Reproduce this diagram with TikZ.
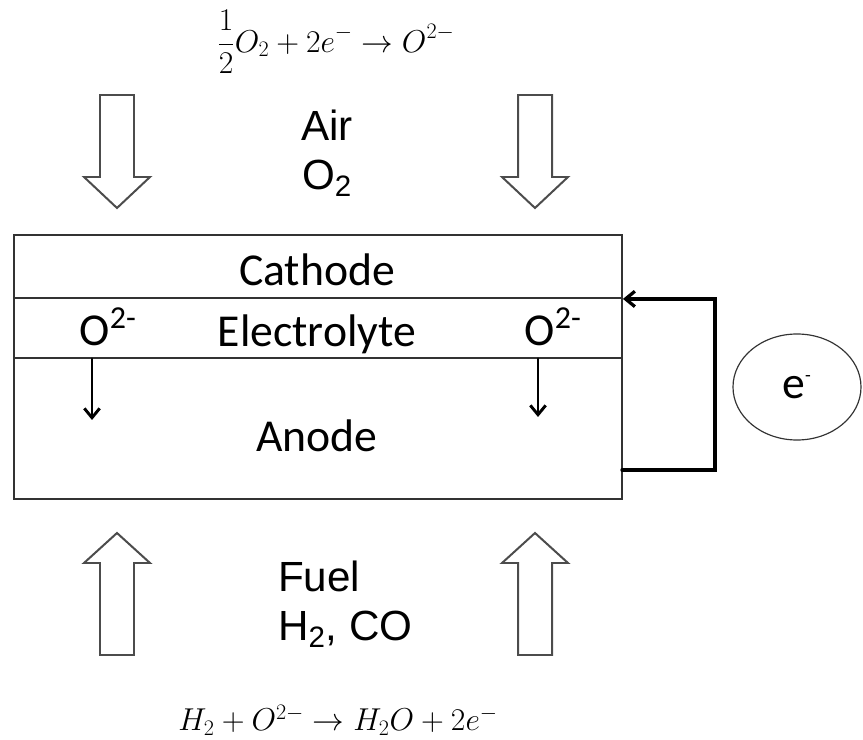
\RequirePackage{fix-cm}
\documentclass[tikz,border=0pt]{standalone}
\usepackage{fontspec}
\setmainfont{Carlito}
\newfontfamily\arialfont{Liberation Sans}
\usetikzlibrary{arrows.meta,shapes.geometric}

\begin{document}
\begin{tikzpicture}[x=0.03cm,y=-0.03cm,>={Straight Barb[length=2.8mm,width=4.6mm]},line cap=round,
  layer/.style={draw=black!80,line width=1.6pt,minimum width=18.24cm,inner sep=0pt},
  blockarrow/.style={draw=black!70,line width=1.7pt,line join=miter,fill=white},
  lbl/.style={font=\fontsize{39}{46}\selectfont},
  gas/.style={font=\arialfont\fontsize{36}{42}\selectfont},
  eqn/.style={font=\fontsize{27}{33}\selectfont},
  wire/.style={draw=black,line width=2.8pt},
  ion/.style={draw=black,line width=2.5pt}]
\useasboundingbox (0,0) rectangle (863,740);
% cell layers
\node[layer,minimum height=1.89cm] (cathode) at (318,266.5) {};
\node[layer,minimum height=1.8cm] (electrolyte) at (318,328) {};
\node[layer,minimum height=4.23cm] (anode) at (318,428.5) {};
\node[lbl] (cathodetext) at (317,270) {Cathode};
\node[lbl] (electrolytetext) at (317,334) {Electrolyte};
\node[lbl] (anodetext) at (317,436) {Anode};
% oxide ions
\node[lbl] (ionleft) at (108,327) {O\textsuperscript{2-}};
\node[lbl] (ionright) at (553,327) {O\textsuperscript{2-}};
\coordinate (dropleft) at (92,420);
\coordinate (dropright) at (538,417);
\draw[ion,->] (electrolyte.south -| dropleft) -- (dropleft);
\draw[ion,->] (electrolyte.south -| dropright) -- (dropright);
% gas supply
\foreach \cx in {117,535} {
  \draw[blockarrow] (\cx-17,95) -- (\cx+17,95) -- (\cx+17,177) -- (\cx+33,177) -- (\cx,208) -- (\cx-33,177) -- (\cx-17,177) -- cycle;
  \draw[blockarrow] (\cx-17,655) -- (\cx+17,655) -- (\cx+17,563) -- (\cx+33,563) -- (\cx,533) -- (\cx-33,563) -- (\cx-17,563) -- cycle;
}
\node[gas,align=center] (air) at (327,153) {Air\\O\textsubscript{2}};
\node[gas,align=left,anchor=west] (fuel) at (274,604) {Fuel\\H\textsubscript{2}, CO};
% reactions
\node[eqn] (cathodeeq) at (336,42) {$\displaystyle\frac{1}{2}O_2+2e^-\rightarrow O^{2-}$};
\node[eqn] (anodeeq) at (338,720) {$H_2+O^{2-}\rightarrow H_2O+2e^-$};
% external circuit
\coordinate (wireout) at (622,470);
\draw[wire,<-] (cathode.south east) -- ++(92,0) |- (wireout);
\node[ellipse,draw=black!80,line width=1pt,minimum width=3.84cm,minimum height=3.18cm,lbl] (electron) at (797,387) {e\textsuperscript{\fontsize{16}{16}\selectfont -}};
\end{tikzpicture}
\end{document}
